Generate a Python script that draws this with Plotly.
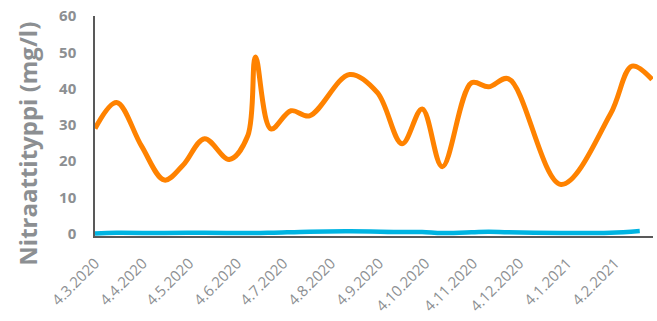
import plotly.graph_objects as go

# Sampling dates and nitrate-nitrogen readings (mg/l)
dates_orange = [
    "2020-03-04", "2020-03-18", "2020-04-03", "2020-04-18", "2020-04-30",
    "2020-05-14", "2020-05-30", "2020-06-11", "2020-06-16", "2020-06-26",
    "2020-07-09", "2020-07-21", "2020-08-16", "2020-09-03", "2020-09-19",
    "2020-10-02", "2020-10-15", "2020-11-03", "2020-11-14", "2020-11-27",
    "2020-12-31", "2021-02-01", "2021-02-15", "2021-02-28",
]
values_orange = [
    29.0, 36.2, 24.3, 14.8, 18.9,
    26.2, 20.5, 27.0, 48.7, 28.9,
    33.9, 32.5, 43.9, 38.9, 24.8,
    34.4, 18.5, 41.6, 40.5, 42.7,
    13.6, 33.0, 46.2, 42.5,
]

dates_blue = [
    "2020-03-04", "2020-03-18", "2020-04-18", "2020-05-14", "2020-06-11",
    "2020-06-26", "2020-07-21", "2020-08-16", "2020-09-19", "2020-10-02",
    "2020-10-15", "2020-11-03", "2020-11-14", "2020-11-27", "2020-12-31",
    "2021-02-01", "2021-02-20",
]
values_blue = [
    0.1, 0.3, 0.2, 0.3, 0.2,
    0.3, 0.6, 0.7, 0.5, 0.5,
    0.2, 0.4, 0.6, 0.4, 0.2,
    0.3, 0.8,
]

tick_dates = [
    "2020-03-04", "2020-04-04", "2020-05-04", "2020-06-04", "2020-07-04",
    "2020-08-04", "2020-09-04", "2020-10-04", "2020-11-04", "2020-12-04",
    "2021-01-04", "2021-02-04",
]
tick_labels = [
    "4.3.2020", "4.4.2020", "4.5.2020", "4.6.2020", "4.7.2020",
    "4.8.2020", "4.9.2020", "4.10.2020", "4.11.2020", "4.12.2020",
    "4.1.2021", "4.2.2021",
]
y_ticks = [0, 10, 20, 30, 40, 50, 60]

ORANGE = "#FF8200"
BLUE = "#00B4E2"
GRAY = "#8C8F92"
AXIS = "#595959"
FONT = "Open Sans"

fig = go.Figure()
fig.add_trace(go.Scatter(
    x=dates_orange, y=values_orange, mode="lines",
    line=dict(color=ORANGE, width=5, shape="spline", smoothing=1),
    showlegend=False,
))
fig.add_trace(go.Scatter(
    x=dates_blue, y=values_blue, mode="lines",
    line=dict(color=BLUE, width=4.5, shape="spline", smoothing=1),
    showlegend=False,
))

fig.update_layout(
    width=657, height=321,
    margin=dict(l=95, r=4, t=16, b=85),
    plot_bgcolor="white", paper_bgcolor="white",
    font=dict(family=FONT, color=GRAY),
)
fig.update_xaxes(
    type="date",
    range=["2020-03-04", "2021-02-28 14:00"],
    tickvals=tick_dates, ticktext=tick_labels,
    tickangle=-45,
    tickfont=dict(family=FONT, size=15, color=GRAY),
    ticks="outside", ticklen=11, tickcolor="rgba(0,0,0,0)",
    showgrid=False, zeroline=False,
    showline=True, linecolor=AXIS, linewidth=1.5,
    layer="below traces",
)
fig.update_yaxes(
    range=[-0.6, 60],
    tickvals=y_ticks,
    tickfont=dict(family=FONT, size=15, color=GRAY, weight="bold"),
    ticks="outside", ticklen=14, tickcolor="rgba(0,0,0,0)",
    showgrid=False, zeroline=False,
    showline=True, linecolor=AXIS, linewidth=1.5,
    layer="below traces",
)

# Axis title placed as a rotated annotation
fig.add_annotation(
    text="Nitraattityppi (mg/l)",
    textangle=-90,
    xref="paper", yref="paper",
    x=-0.12, y=0.42, xanchor="center", yanchor="middle",
    showarrow=False,
    font=dict(family=FONT, size=24, color=GRAY, weight="bold"),
)

fig.write_html("out.html")
